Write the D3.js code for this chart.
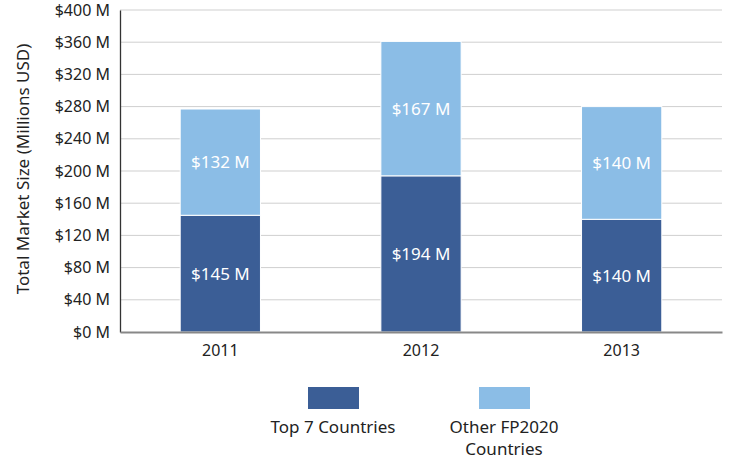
<!DOCTYPE html>
<html>
<head>
<meta charset="utf-8">
<script src="https://cdn.jsdelivr.net/npm/d3@7"></script>
<style>
  body { margin: 0; background: #fff; }
  svg text { font-family: "Noto Sans", "Open Sans", sans-serif; }
</style>
</head>
<body>
<div id="chart"></div>
<script>
// data
const years = ["2011", "2012", "2013"];
const top7 = [145, 194, 140];
const otherFP = [132, 167, 140];
const seriesNames = ["Top 7 Countries", "Other FP2020 Countries"];
const yTicks = [0, 40, 80, 120, 160, 200, 240, 280, 320, 360, 400];

const colors = ["#3b5e96", "#8bbde6"];

const W = 731, H = 462;
const margin = {top: 10, right: 9, bottom: 130, left: 120};
const width = W - margin.left - margin.right,
      height = H - margin.top - margin.bottom;

const svg = d3.select("#chart").append("svg")
  .attr("width", W).attr("height", H);

const g = svg.append("g")
  .attr("transform", "translate(" + margin.left + "," + margin.top + ")");

const x = d3.scaleBand().domain(years).range([0, width])
  .paddingInner(0.6).paddingOuter(0.3);
const y = d3.scaleLinear().domain([0, 400]).range([height, 0]);

// gridlines
g.append("g").selectAll("line")
  .data(yTicks.filter(d => d > 0))
  .enter().append("line")
  .attr("x1", 0).attr("x2", width)
  .attr("y1", d => y(d)).attr("y2", d => y(d))
  .attr("stroke", "#cfcfcf").attr("stroke-width", 1);

// stack the two series
const rows = years.map((yr, i) => ({year: yr, a: top7[i], b: otherFP[i]}));
const stacked = d3.stack().keys(["a", "b"])(rows);

const layer = g.selectAll(".layer").data(stacked).enter().append("g")
  .attr("fill", (d, i) => colors[i]);

layer.selectAll("rect").data(d => d).enter().append("rect")
  .attr("x", d => x(d.data.year))
  .attr("y", d => y(d[1]))
  .attr("width", x.bandwidth())
  .attr("height", d => y(d[0]) - y(d[1]))
  .attr("stroke", "#fff").attr("stroke-width", 1);

layer.selectAll("text").data(d => d).enter().append("text")
  .attr("x", d => x(d.data.year) + x.bandwidth() / 2)
  .attr("y", d => (y(d[0]) + y(d[1])) / 2)
  .attr("dy", "0.35em")
  .attr("text-anchor", "middle")
  .attr("fill", "#fff")
  .style("font-size", "17px")
  .text(d => "$" + (d[1] - d[0]) + " M");

// y axis
const yAxis = g.append("g")
  .call(d3.axisLeft(y).tickValues(yTicks).tickSize(0).tickPadding(10)
    .tickFormat(d => "$" + d + " M"));
yAxis.select(".domain").attr("stroke", "#333").attr("stroke-width", 1.3);
yAxis.selectAll("text").style("font-size", "16px").attr("fill", "#222");

// x axis
const xAxis = g.append("g")
  .attr("transform", "translate(0," + height + ")")
  .call(d3.axisBottom(x).tickSize(0).tickPadding(13));
xAxis.select(".domain").attr("stroke", "#888").attr("stroke-width", 2);
xAxis.selectAll("text").style("font-size", "16px").attr("fill", "#222");

// y axis title
svg.append("text")
  .attr("transform", "translate(29," + (margin.top + height / 2 - 2) + ") rotate(-90)")
  .attr("text-anchor", "middle")
  .attr("fill", "#222")
  .style("font-size", "17px")
  .text("Total Market Size (Millions USD)");

// legend
const legendX = [333, 504];
const legend = svg.selectAll(".legend").data(seriesNames).enter().append("g")
  .attr("transform", (d, i) => "translate(" + legendX[i] + ",387)");
legend.append("rect")
  .attr("x", -25).attr("y", 0).attr("width", 51).attr("height", 22)
  .attr("fill", (d, i) => colors[i]);
legend.append("text")
  .attr("text-anchor", "middle")
  .attr("fill", "#222")
  .style("font-size", "17px")
  .each(function(d, i) {
    const lines = i === 0 ? [d] : ["Other FP2020", "Countries"];
    d3.select(this).selectAll("tspan").data(lines).enter().append("tspan")
      .attr("x", 0).attr("y", (l, j) => 46 + j * 22)
      .text(l => l);
  });
</script>
</body>
</html>
